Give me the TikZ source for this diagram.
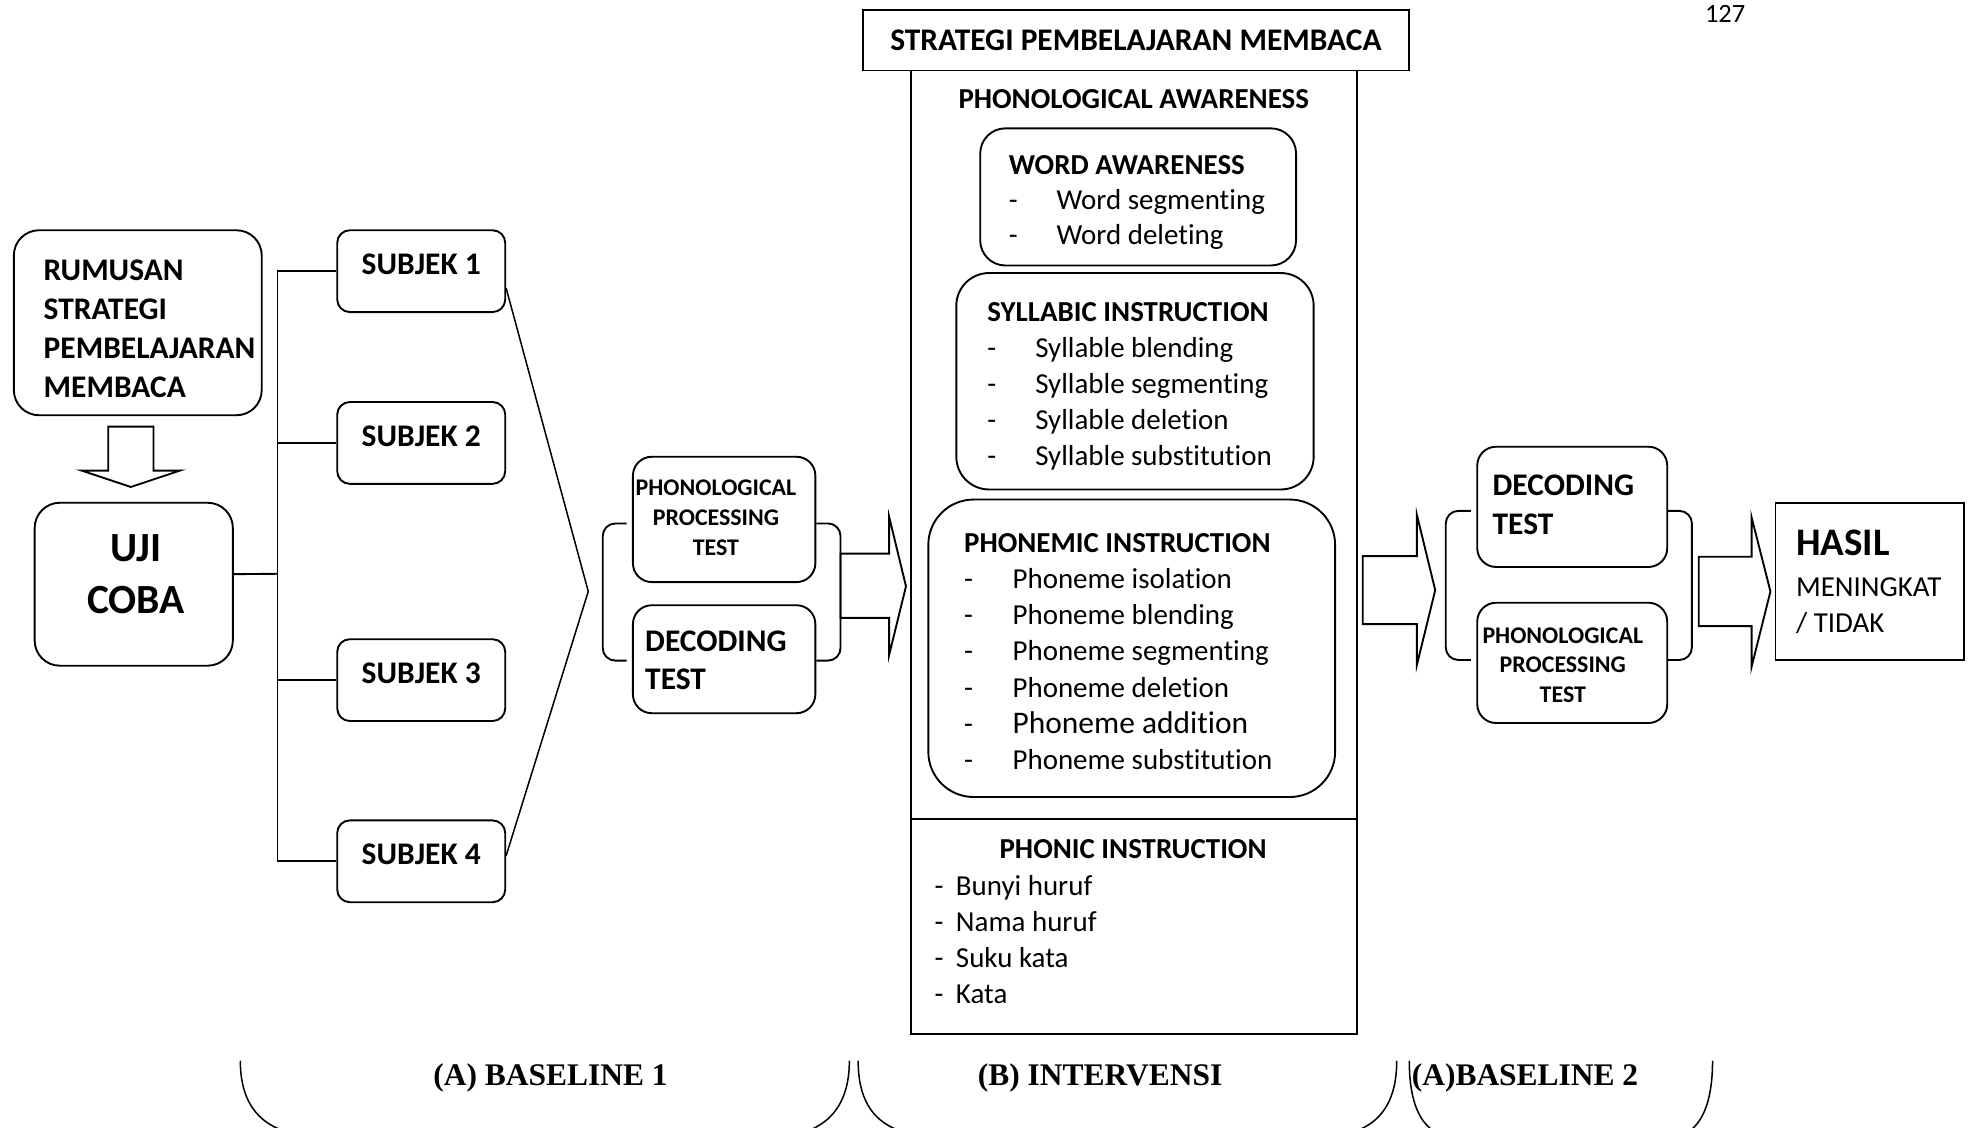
\documentclass[tikz,border=0pt]{standalone}
\usepackage{fontspec}
\setmainfont[Ligatures=NoCommon]{Carlito}
\newfontfamily\labelfont{Liberation Serif}
\usetikzlibrary{calc}

\newcommand{\fs}[2]{\fontsize{#1}{#2}\selectfont}
\newcommand{\dashitem}[2]{\makebox[#1][l]{-}#2}

\begin{document}
\begin{tikzpicture}[x=1pt,y=-1pt,line width=1.5pt,
  rbox/.style={draw,rounded corners=#1,inner sep=0pt},
  rbox/.default=12pt,
  subjek/.style={rbox=10pt,minimum width=133.5pt,minimum height=65pt,
    font=\fs{25}{30}\bfseries,text depth=11pt},
  testbox/.style={rbox=15pt,minimum width=145pt},
  txt/.style={inner sep=0pt,align=left},
  phase/.style={font=\labelfont\fs{25}{30}\bfseries,inner sep=0pt,anchor=base},
  bracket/.style={rounded corners=10pt},
  hollow/.style={line join=miter}]

  \fill[white] (0,0) rectangle (1568,896);
  \useasboundingbox (0,0) rectangle (1568,896);

  % left part
  \node[rbox=20pt,minimum width=197pt,minimum height=147pt] (rum) at (109.5,256.5) {};
  \node[txt,anchor=north west,font=\fs{25}{31}\bfseries] (rumtxt) at (34,205.4)
    {RUMUSAN\\STRATEGI\\PEMBELAJARAN\\MEMBACA};
  \node[rbox=20pt,minimum width=157.5pt,minimum height=129.5pt] (uji) at (106.3,464.3) {};
  \node[txt,align=center,anchor=north,font=\fs{33}{41}\bfseries] (ujitxt) at (108,424.4) {UJI\\COBA};
  \draw[hollow] (86,339) -- (122,339) -- (122,374) -- (143,374) -- (104,387)
    -- (65,374) -- (86,374) -- cycle;

  \foreach \i/\y in {1/215.5,2/352,3/540.5,4/684.5}
    \node[subjek] (s\i) at (334.75,\y) {SUBJEK \i};

  \coordinate (bus) at (220.5,456);
  \draw (s1.west) -- (s1.west -| bus) -- (s4.west -| bus) -- (s4.west);
  \draw (s2.west) -- (s2.west -| bus);
  \draw (s3.west) -- (s3.west -| bus);
  \draw ([yshift=8pt]uji.east) -- (bus);

  \coordinate (v) at (467.5,470);
  \draw[line width=1.2pt] ([yshift=-13.5pt]s1.east) -- (v) -- ([yshift=4.5pt]s4.east);

  % baseline 1 tests
  \node[testbox,minimum height=99.6pt] (ppt1) at (575.5,412.8) {};
  \node[txt,align=center,anchor=north,font=\fs{19}{23.5}\bfseries] (ppt1txt) at (569,380.9)
    {PHONOLOGICAL\\PROCESSING\\TEST};
  \node[testbox,minimum height=85.8pt] (dec1) at (575.5,523.9) {};
  \node[txt,anchor=north west,font=\fs{25}{30.4}\bfseries] (dec1txt) at (512,500.5) {DECODING\\TEST};
  \draw[bracket] (498,416) -| (479,470) |- (498,525);
  \draw[bracket] (ppt1.east |- 0,416) -| (668,470) |- (dec1.east |- 0,525);
  \draw[hollow] (668,440) -- (706.6,440) -- (706.6,410.6) -- (720,466)
    -- (706.6,520.6) -- (706.6,491) -- (668,491) -- cycle;

  % intervensi
  \node[draw,minimum width=434.5pt,minimum height=48pt,inner sep=0pt,
    font=\fs{25}{30}\bfseries] (title) at (902.75,32) {STRATEGI PEMBELAJARAN MEMBACA};
  \node[draw,minimum width=354.6pt,minimum height=766pt] (col) at (901.3,439) {};
  \node[font=\fs{23}{28}\bfseries] (patitle) at (901,78.7) {PHONOLOGICAL AWARENESS};

  \node[rbox=20pt,minimum width=251pt,minimum height=109pt] (wa) at (904.5,156.5) {};
  \node[txt,anchor=north west,font=\fs{23}{28}] (watxt) at (801,122.6)
    {\textbf{WORD AWARENESS}\\\dashitem{38pt}{Word segmenting}\\\dashitem{38pt}{Word deleting}};

  \node[rbox=26pt,minimum width=284pt,minimum height=172pt] (si) at (902,303) {};
  \node[txt,anchor=north west,font=\fs{23}{28.7}] (sitxt) at (784,239.6)
    {\textbf{SYLLABIC INSTRUCTION}\\\dashitem{38pt}{Syllable blending}\\
     \dashitem{38pt}{Syllable segmenting}\\\dashitem{38pt}{Syllable deletion}\\
     \dashitem{38pt}{Syllable substitution}};

  \node[rbox=36pt,minimum width=323.3pt,minimum height=236.4pt] (pi) at (899.4,515.2) {};
  \node[txt,anchor=north west,font=\fs{23}{28.8}] (pitxt) at (765.5,423)
    {\textbf{PHONEMIC INSTRUCTION}\\\dashitem{38.5pt}{Phoneme isolation}\\
     \dashitem{38.5pt}{Phoneme blending}\\\dashitem{38.5pt}{Phoneme segmenting}\\
     \dashitem{38.5pt}{Phoneme deletion}\\\dashitem{38.5pt}{{\fs{25}{28.8}Phoneme addition}}\\
     \dashitem{38.5pt}{Phoneme substitution}};

  \draw (col.west |- 0,651) -- (col.east |- 0,651);
  \node[font=\fs{23}{28}\bfseries] (phtitle) at (900.5,675) {PHONIC INSTRUCTION};
  \node[txt,anchor=north west,font=\fs{23}{28.7}] (phtxt) at (742,694.6)
    {\dashitem{17pt}{Bunyi huruf}\\\dashitem{17pt}{Nama huruf}\\
     \dashitem{17pt}{Suku kata}\\\dashitem{17pt}{Kata}};

  \draw[hollow] (1083,442) -- (1126,442) -- (1126,409) -- (1140.6,469)
    -- (1126,528.6) -- (1126,496) -- (1083,496) -- cycle;

  % baseline 2 tests
  \node[testbox,minimum width=151pt,minimum height=95.6pt] (dec2) at (1249.5,402.8) {};
  \node[txt,anchor=north west,font=\fs{25}{30.7}\bfseries] (dec2txt) at (1185.5,376.7) {DECODING\\TEST};
  \node[testbox,minimum width=151pt,minimum height=95.6pt] (ppt2) at (1249.5,526.8) {};
  \node[txt,align=center,anchor=north,font=\fs{19}{23.5}\bfseries] (ppt2txt) at (1242,497.9)
    {PHONOLOGICAL\\PROCESSING\\TEST};
  \draw[bracket] (1169,406) -| (1149,465) |- (1169,524.5);
  \draw[bracket] (dec2.east |- 0,406) -| (1344.6,465) |- (ppt2.east |- 0,524.5);
  \draw[hollow] (1350,442.5) -- (1392,442.5) -- (1392,411) -- (1407,470)
    -- (1392,530) -- (1392,497.6) -- (1350,497.6) -- cycle;

  \node[draw,minimum width=150pt,minimum height=125pt] (hasil) at (1486,462) {};
  \node[txt,anchor=north west,font=\fs{23}{28.5}] (hasiltxt) at (1426.6,420.5)
    {{\fs{31}{28.5}\bfseries HASIL}\\[4pt]MENINGKAT\\/ TIDAK};

  \node[anchor=base,font=\fs{21}{25}] (pagenum) at (1371,18) {127};

  % phases
  \node[phase] (base1) at (437.5,862.5) {(A) BASELINE 1};
  \node[phase] (interv) at (874.3,862.5) {(B) INTERVENSI};
  \node[phase] (base2) at (1212,862.5) {(A)BASELINE 2};
  \draw[line width=1.2pt] (191,843) .. controls (191,873) and (203,889) .. (221,897);
  \draw[line width=1.2pt] (675,843) .. controls (675,873) and (663,889) .. (646,897);
  \draw[line width=1.2pt] (682,843) .. controls (682,873) and (693,889) .. (711,897);
  \draw[line width=1.2pt] (1110,843) .. controls (1110,873) and (1099,889) .. (1082,897);
  \draw[line width=1.2pt] (1120,843) .. controls (1120,873) and (1127,889) .. (1137,897);
  \draw[line width=1.2pt] (1361,843) .. controls (1361,873) and (1354,889) .. (1345,897);
\end{tikzpicture}
\end{document}
